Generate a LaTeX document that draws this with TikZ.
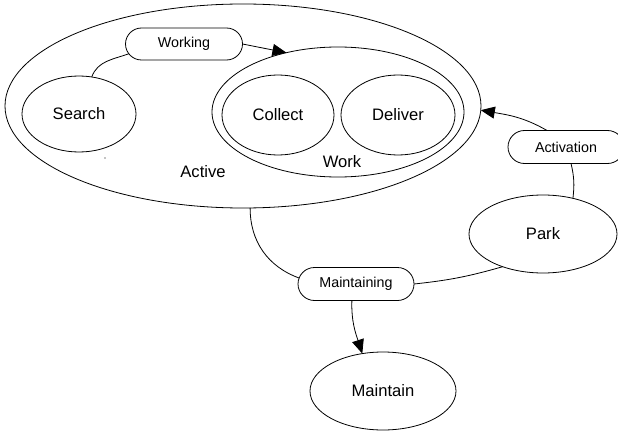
\documentclass[tikz,border=0pt]{standalone}
\usepackage{fontspec}
\setmainfont{Liberation Sans}
\usetikzlibrary{shapes.geometric,shapes.misc,arrows.meta}
\begin{document}
\begin{tikzpicture}[x=1pt,y=1pt,
  state/.style={ellipse, draw, line width=0.8pt, inner sep=0pt, outer sep=0pt,
                font=\fontsize{16.6}{20}\selectfont},
  trans/.style={rounded rectangle, draw, line width=0.8pt, inner sep=0pt, outer sep=0pt,
                minimum width=116pt, minimum height=33pt,
                font=\fontsize{14.3}{17}\selectfont},
  tag/.style={inner sep=0pt, font=\fontsize{16.6}{20}\selectfont},
  link/.style={line width=0.8pt},
  arr/.style={link, -{Triangle[length=14pt,width=12pt]}}
]
\useasboundingbox (0,0) rectangle (618,-433);

% composite and simple states
\node[state, minimum width=476pt, minimum height=204pt] (active) at (243,-106) {};
\node[state, minimum width=114pt, minimum height=76pt] (search) at (79,-114) {Search};
\node[state, minimum width=252pt, minimum height=130pt] (work) at (338,-112) {};
\node[state, minimum width=112pt, minimum height=80pt] (collect) at (278,-115) {Collect};
\node[state, minimum width=114pt, minimum height=80pt] (deliver) at (398,-115) {Deliver};
\node[state, minimum width=148pt, minimum height=78pt] (park) at (543,-234) {Park};
\node[state, minimum width=146pt, minimum height=78pt] (maint) at (383,-391) {Maintain};
\node[tag] (activetag) at (203,-172) {Active};
\node[tag] (worktag) at (342,-162) {Work};

% transitions
\node[trans, minimum width=117pt, minimum height=32pt] (wk) at (184,-44) {Working};
\node[trans] (act) at (566,-147) {Activation};
\node[trans] (mt) at (356,-284) {Maintaining};

% connectors
\draw[link] (search.71) to[out=70,in=200] (wk.190);
\draw[arr] (wk.east) -- (work.131);
\draw[arr] (act.139) to[out=150,in=-10] (active.-1);
\draw[link] (park.50) to[bend right=10] (act.-73);
\draw[link] (active.-86) to[out=-90,in=160] (mt.174);
\draw[link] (park.-141) to[bend left=5] (mt.east);
\draw[arr] (mt.-104) to[out=-92,in=108] (maint.119);

\fill (105,-158) circle (0.6pt);
\end{tikzpicture}
\end{document}
